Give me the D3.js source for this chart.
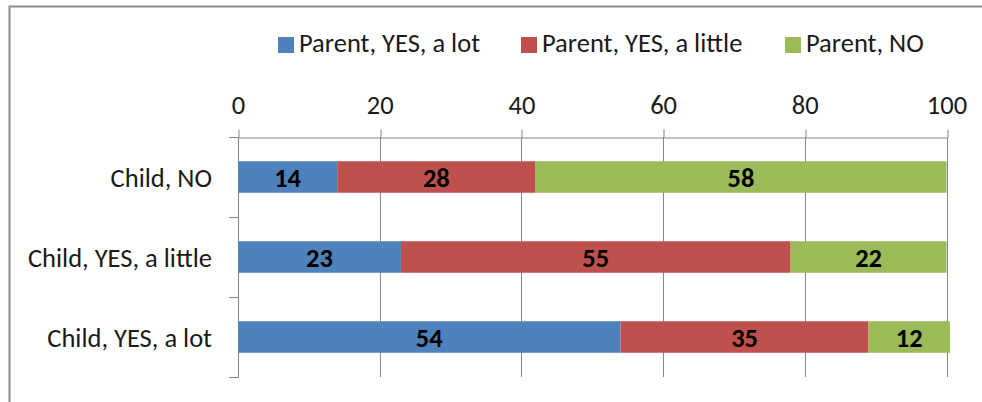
<!DOCTYPE html>
<html>
<head>
<meta charset="utf-8">
<script src="https://cdn.jsdelivr.net/npm/d3@7"></script>
<style>
  html, body { margin: 0; padding: 0; background: #fff; }
  svg { display: block; }
  text { font-family: Carlito, Lato, "Open Sans", sans-serif; }
</style>
</head>
<body>
<svg id="chart" width="982" height="402"></svg>
<script>
const categories = ["Child, NO", "Child, YES, a little", "Child, YES, a lot"];
const seriesNames = ["Parent, YES, a lot", "Parent, YES, a little", "Parent, NO"];
const parentYesALot = [14, 23, 54];
const parentYesALittle = [28, 55, 35];
const parentNo = [58, 22, 11.5];
const xTicks = [0, 20, 40, 60, 80, 100];
const colors = ["#4F81BD", "#C0504D", "#9BBB59"];

const series = [parentYesALot, parentYesALittle, parentNo];
const rows = categories.map((c, i) => {
  const r = { cat: c };
  seriesNames.forEach((s, j) => r[s] = series[j][i]);
  return r;
});
const stacked = d3.stack().keys(seriesNames)(rows);

const svg = d3.select("#chart");
const axisColor = "#868686";
const fs = 26.5;

// chart border
svg.append("rect").attr("x", 9.5).attr("y", 6.5).attr("width", 1000).attr("height", 500)
  .attr("fill", "none").attr("stroke", "#8c8c8c").attr("stroke-width", 2);

const x = d3.scaleLinear().domain([0, 100]).range([238, 946.5]);
const y = d3.scaleBand().domain(categories).range([137, 377]).paddingInner(0.606).paddingOuter(0.303);

// gridlines
svg.append("g").selectAll("line").data(xTicks.filter(d => d !== 0)).join("line")
  .attr("x1", d => Math.round(x(d)) + 0.5).attr("x2", d => Math.round(x(d)) + 0.5)
  .attr("y1", 137).attr("y2", 377)
  .attr("stroke", axisColor).attr("stroke-width", 1);

// top axis
const xAxis = svg.append("g").attr("transform", "translate(0,137.5)")
  .call(d3.axisTop(x).tickValues(xTicks).tickSize(8).tickSizeOuter(0).tickPadding(16).tickFormat(d3.format("d")));
xAxis.selectAll("line").attr("stroke", axisColor)
  .attr("transform", d => `translate(${Math.round(x(d)) + 0.5 - x(d)},0)`);
xAxis.select(".domain").attr("stroke", axisColor);
xAxis.selectAll("text").attr("font-size", fs).attr("fill", "#1a1a1a")
  .style("font-family", "Carlito, Lato, 'Open Sans', sans-serif");

// left axis (category boundaries)
const step = y.step();
const left = svg.append("g");
left.append("line").attr("x1", 238.5).attr("x2", 238.5).attr("y1", 137).attr("y2", 377.5)
  .attr("stroke", axisColor);
left.selectAll("line.tk").data(d3.range(categories.length + 1)).join("line").attr("class", "tk")
  .attr("x1", 229).attr("x2", 238.5)
  .attr("y1", i => Math.round(137 + i * step) + 0.5).attr("y2", i => Math.round(137 + i * step) + 0.5)
  .attr("stroke", axisColor);
left.selectAll("text").data(categories).join("text")
  .attr("x", 212).attr("y", d => y(d) + y.bandwidth() / 2 + 1)
  .attr("text-anchor", "end").attr("dominant-baseline", "central")
  .attr("font-size", fs).attr("fill", "#1a1a1a").text(d => d);

// bars
const groups = svg.append("g").selectAll("g").data(stacked).join("g")
  .attr("fill", (d, i) => colors[i]);
groups.selectAll("rect").data(d => d).join("rect")
  .attr("x", d => x(d[0])).attr("width", d => x(d[1]) - x(d[0]))
  .attr("y", d => y(d.data.cat)).attr("height", y.bandwidth());

// labels
groups.selectAll("text").data(d => d.map(v => ({ v, key: d.key }))).join("text")
  .attr("x", d => (x(d.v[0]) + x(d.v[1])) / 2)
  .attr("y", d => y(d.v.data.cat) + y.bandwidth() / 2 + 1)
  .attr("text-anchor", "middle").attr("dominant-baseline", "central")
  .attr("font-size", fs).attr("font-weight", "bold").attr("fill", "#000")
  .text(d => Math.round(d.v.data[d.key]));

// legend
const legendX = [278, 521, 785];
const lg = svg.append("g").selectAll("g").data(seriesNames).join("g")
  .attr("transform", (d, i) => `translate(${legendX[i]},37)`);
lg.append("rect").attr("width", 16).attr("height", 16).attr("fill", (d, i) => colors[i]);
lg.append("text").attr("x", 21).attr("y", 15).attr("font-size", fs).attr("fill", "#1a1a1a").text(d => d);
</script>
</body>
</html>
